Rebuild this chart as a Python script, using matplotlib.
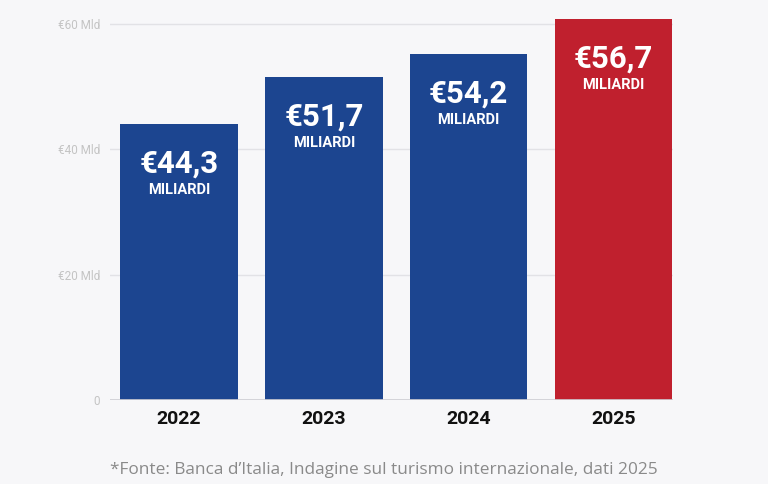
import matplotlib
matplotlib.use("Agg")
import matplotlib.pyplot as plt

# dati
anni = ["2022", "2023", "2024", "2025"]
altezze = [44.0, 51.5, 55.2, 60.8]          # altezza delle barre come disegnate
etichette = ["€44,3", "€51,7", "€54,2", "€56,7"]
colori = ["#1c4590", "#1c4590", "#1c4590", "#c0202e"]
tick_valori = [0, 20, 40, 60]
tick_testi = ["0", "€20 Mld", "€40 Mld", "€60 Mld"]
fonte = "*Fonte: Banca d\u2019Italia, Indagine sul turismo internazionale, dati 2025"

fig = plt.figure(figsize=(7.68, 4.84), dpi=100, facecolor="#f7f7f9")
ax = fig.add_axes([0.1432, 0.1736, 0.7331, 0.7898])
ax.set_facecolor("#f7f7f9")

x = range(len(anni))
bars = ax.bar(x, altezze, width=0.81, color=colori, zorder=3)

ax.set_xlim(-0.476, 3.41)
ax.set_ylim(0, 61)

# griglia orizzontale
ax.set_yticks(tick_valori)
ax.set_yticklabels(tick_testi, fontsize=8.5, color="#c4c4c4", family="Roboto")
ax.yaxis.grid(True, color="#e2e2e6", linewidth=1, zorder=0)
ax.axhline(0, color="#cfcfd4", linewidth=1.2, zorder=4)
ax.tick_params(axis="y", length=0, pad=7)

ax.set_xticks(list(x))
ax.set_xticklabels(anni, fontsize=14, fontweight="bold", color="#111111", family="Roboto")
ax.tick_params(axis="x", length=0, pad=7)

for s in ax.spines.values():
    s.set_visible(False)

# etichette dentro le barre
for b, t in zip(bars, etichette):
    cx = b.get_x() + b.get_width() / 2
    top = b.get_height()
    ax.annotate(t, (cx, top), xytext=(0, -28.5), textcoords="offset points",
                ha="center", va="center", color="white", fontsize=22.5,
                fontweight="bold", family="Roboto", zorder=5)
    ax.annotate("MILIARDI", (cx, top), xytext=(0, -47.5), textcoords="offset points",
                ha="center", va="center", color="white", fontsize=10.5,
                fontweight="bold", family="Roboto", zorder=5)

fig.text(0.5, 1 - 470 / 484, fonte, ha="center", va="center",
         fontsize=12.4, color="#8a8a8a", family="Open Sans")

plt.savefig("out.png", dpi=100, facecolor=fig.get_facecolor())
